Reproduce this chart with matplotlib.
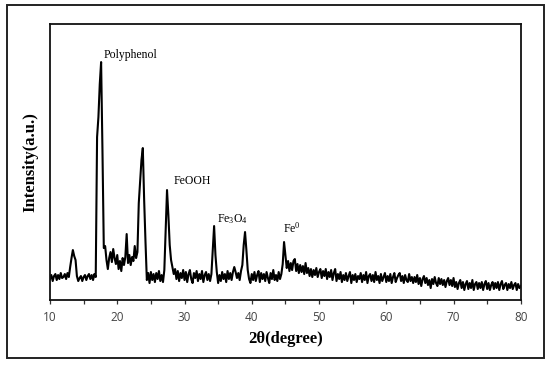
import matplotlib

matplotlib.use('Agg')

import matplotlib.pyplot as plt
import numpy as np
from matplotlib.patches import Rectangle

# XRD intensities, one value every 0.2 degree from 10 to 80
intensity = [
    21, 25, 19, 24, 26, 20, 25, 21, 27, 22,      # 10.0
    23, 26, 21, 27, 23, 33, 42, 50, 44, 40,      # 12.0
    24, 19, 22, 24, 19, 23, 25, 20, 24, 26,      # 14.0
    21, 25, 20, 26, 23, 163, 183, 216, 238, 150,  # 16.0
    52, 54, 40, 31, 42, 48, 38, 51, 42, 36,      # 18.0
    45, 31, 39, 29, 42, 35, 43, 66, 37, 45,      # 20.0
    35, 43, 39, 54, 42, 48, 97, 118, 140, 152,   # 22.0
    100, 58, 20, 27, 17, 28, 20, 26, 18, 27,     # 24.0
    21, 29, 19, 25, 18, 30, 70, 110, 85, 55,     # 26.0
    40, 33, 26, 31, 21, 29, 19, 27, 22, 30,      # 28.0
    20, 28, 18, 26, 30, 21, 17, 27, 22, 29,      # 30.0
    19, 26, 21, 29, 18, 25, 28, 20, 26, 19,      # 32.0
    26, 50, 74, 45, 28, 17, 25, 19, 28, 21,      # 34.0
    26, 18, 29, 21, 27, 20, 28, 33, 28, 22,      # 36.0
    27, 20, 29, 35, 55, 68, 50, 30, 21, 17,      # 38.0
    26, 20, 28, 19, 25, 29, 18, 27, 21, 26,      # 40.0
    19, 28, 22, 17, 27, 21, 30, 20, 25, 19,      # 42.0
    28, 21, 26, 36, 58, 45, 32, 39, 29, 37,      # 44.0
    30, 39, 41, 29, 36, 27, 35, 28, 34, 26,      # 46.0
    37, 27, 32, 24, 31, 23, 30, 25, 32, 23,      # 48.0
    28, 31, 22, 29, 24, 31, 21, 28, 23, 30,      # 50.0
    20, 27, 31, 19, 26, 21, 28, 18, 25, 20,      # 52.0
    27, 19, 24, 28, 17, 25, 20, 26, 18, 24,      # 54.0
    21, 27, 18, 25, 20, 28, 17, 24, 26, 19,      # 56.0
    25, 18, 28, 20, 24, 17, 26, 19, 23, 27,      # 58.0
    18, 24, 19, 26, 17, 23, 27, 18, 22, 25,      # 60.0
    27, 19, 24, 17, 25, 20, 18, 26, 19, 23,      # 62.0
    17, 23, 18, 25, 16, 22, 14, 21, 24, 17,      # 64.0
    22, 15, 20, 12, 21, 16, 23, 17, 14, 22,      # 66.0
    16, 21, 15, 20, 13, 19, 22, 15, 20, 14,      # 68.0
    22, 13, 18, 11, 17, 20, 12, 18, 10, 16,      # 70.0
    19, 11, 17, 12, 20, 10, 16, 18, 11, 17,      # 72.0
    12, 18, 10, 16, 19, 11, 17, 10, 15, 18,      # 74.0
    11, 17, 12, 18, 10, 16, 19, 11, 15, 17,      # 76.0
    10, 16, 12, 18, 11, 15, 17, 10, 16, 12,      # 78.0
    14,                                          # 80.0
]
two_theta = np.linspace(10, 80, len(intensity))

x_ticks = [10, 20, 30, 40, 50, 60, 70, 80]
x_minor = [15, 25, 35, 45, 55, 65, 75]

peak_labels = ['Polyphenol', 'FeOOH', r'Fe$_3$O$_4$', r'Fe$^0$']
peak_label_pos = [(17.9, 245), (28.4, 119), (34.9, 81), (44.6, 72)]

plt.rcParams['mathtext.fontset'] = 'custom'
plt.rcParams['mathtext.rm'] = 'Liberation Serif'
plt.rcParams['mathtext.it'] = 'Liberation Serif:italic'

fig = plt.figure(figsize=(5.5, 3.65), dpi=100)
ax = fig.add_axes([0.0909, 0.178, 0.856, 0.756])

# outer frame around the whole figure
fig.patches.append(Rectangle((0.0127, 0.019), 0.976, 0.967, transform=fig.transFigure,
                             fill=False, edgecolor='#222222', linewidth=1.4))

ax.plot(two_theta, intensity, color='black', linewidth=1.5)

ax.set_xlim(10, 80)
ax.set_ylim(0, 276)
ax.set_xticks(x_ticks)
ax.set_xticks(x_minor, minor=True)
ax.set_yticks([])
ax.tick_params(axis='x', which='both', direction='out', length=3, width=0.9,
               pad=5, labelsize=8.5, labelcolor='#444444', colors='#333333')
for lbl in ax.get_xticklabels():
    lbl.set_family('Open Sans')

for side in ax.spines.values():
    side.set_linewidth(1.3)
    side.set_color('#111111')

ax.set_xlabel('2θ(degree)', family='Liberation Serif', fontweight='bold', fontsize=12, labelpad=5)
ax.set_ylabel('Intensity(a.u.)', family='Liberation Serif', fontweight='bold', fontsize=12, labelpad=8)

for text, (px, py) in zip(peak_labels, peak_label_pos):
    ax.text(px, py, text, family='Liberation Serif', fontsize=8.5, ha='left', va='center')

fig.savefig('out.png', dpi=100)
